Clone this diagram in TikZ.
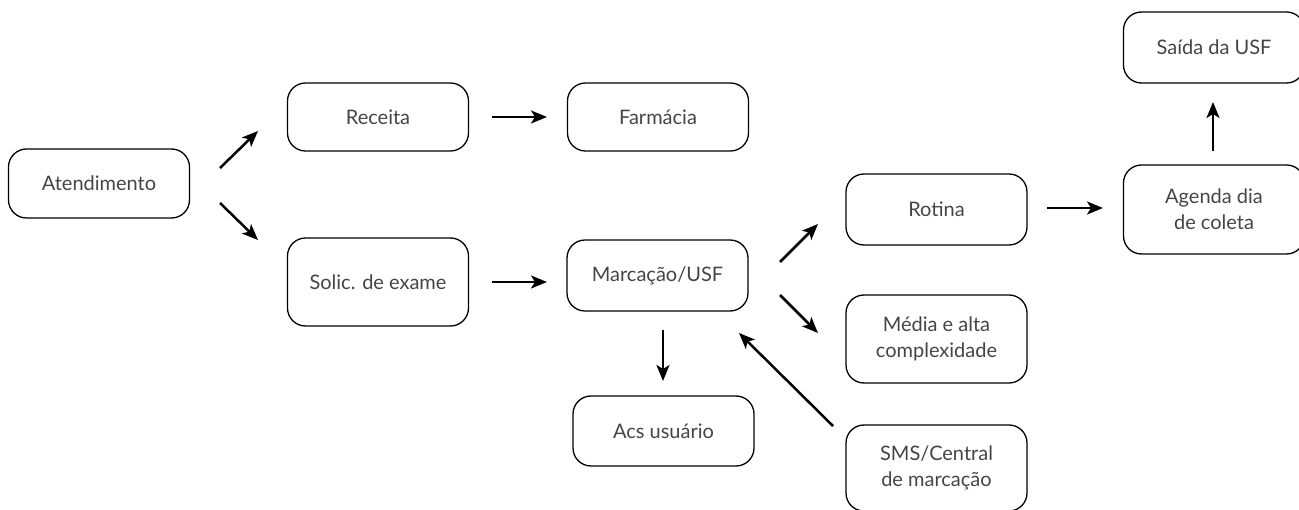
\documentclass[tikz,border=0pt]{standalone}
\usepackage{fontspec}
\setmainfont{Lato}
\usetikzlibrary{arrows.meta}
\definecolor{txt}{HTML}{454545}
\tikzset{
  box/.style={draw=black, line width=1.3pt, rounded corners=18pt, minimum width=181pt,
    align=center, font=\fontsize{20}{26}\selectfont, text=txt, inner sep=2pt},
  conn/.style={line width=2.5pt, -{Stealth[length=16pt,width=13pt,inset=4pt]}}
}
\begin{document}
\begin{tikzpicture}[x=1pt,y=-1pt]
\useasboundingbox (0,0) rectangle (1299,510);
\node[box, minimum height=69pt] (at) at (99,183.5) {Atendimento};
\node[box, minimum height=68pt] (rec) at (378,117) {Receita};
\node[box, minimum height=68pt] (far) at (658,117) {Farmácia};
\node[box, minimum height=88pt] (sol) at (378,282) {Solic. de exame};
\node[box, minimum height=71pt] (mar) at (657.5,275.5) {Marcação/USF};
\node[box, minimum height=70pt] (acs) at (663.5,431) {Acs usuário};
\node[box, minimum height=71pt] (rot) at (936.5,209.5) {Rotina};
\node[box, minimum height=88pt] (med) at (936.5,339) {Média e alta\\complexidade};
\node[box, minimum height=86pt] (sms) at (936.5,468) {SMS/Central\\de marcação};
\node[box, minimum height=89pt] (age) at (1214,209.5) {Agenda dia\\de coleta};
\node[box, minimum height=71pt] (sai) at (1214,47.5) {Saída da USF};

\coordinate (a1s) at (220,168); \coordinate (a1e) at (258,131);
\coordinate (a2s) at (220,203); \coordinate (a2e) at (258,240);
\coordinate (a3s) at (492,117); \coordinate (a3e) at (547,117);
\coordinate (a4s) at (492,282); \coordinate (a4e) at (547,282);
\coordinate (a5s) at (663,330); \coordinate (a5e) at (663,381);
\coordinate (a6s) at (780,262); \coordinate (a6e) at (818,224);
\coordinate (a7s) at (780,295); \coordinate (a7e) at (818,333);
\coordinate (a8s) at (833,426); \coordinate (a8e) at (739,333);
\coordinate (a9s) at (1047,208); \coordinate (a9e) at (1103,208);
\coordinate (a10s) at (1213,151); \coordinate (a10e) at (1213,102);

\draw[conn] (a1s) -- (a1e);
\draw[conn] (a2s) -- (a2e);
\draw[conn] (a3s) -- (a3e);
\draw[conn] (a4s) -- (a4e);
\draw[conn] (a5s) -- (a5e);
\draw[conn] (a6s) -- (a6e);
\draw[conn] (a7s) -- (a7e);
\draw[conn] (a8s) -- (a8e);
\draw[conn] (a9s) -- (a9e);
\draw[conn] (a10s) -- (a10e);
\end{tikzpicture}
\end{document}
